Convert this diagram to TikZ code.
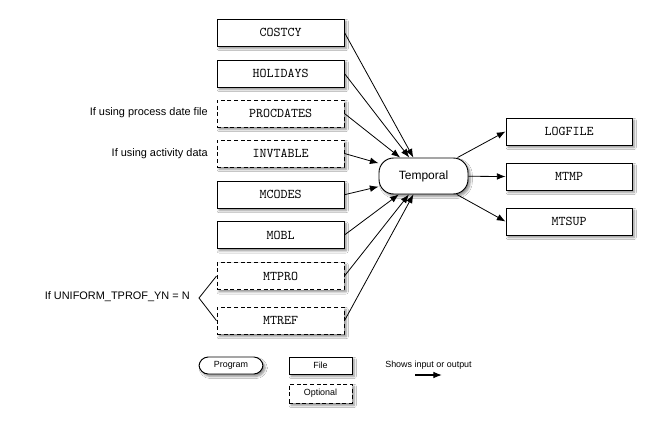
\documentclass[tikz,border=0pt]{standalone}
\usepackage{fontspec}
\setmainfont{Liberation Sans}
\usetikzlibrary{arrows.meta,shadows.blur,calc}
\tikzset{
  x=0.75pt, y=-0.75pt,
  shad/.style={blur shadow={shadow xshift=1.6pt, shadow yshift=-1.8pt, shadow blur radius=1.6pt, shadow blur steps=6, shadow opacity=45}},
  filebox/.style={draw=black, line width=0.7pt, fill=white, shad, minimum width=95.25pt, minimum height=20.25pt, inner sep=0pt, font=\ttfamily\fontsize{10}{12}\selectfont},
  outbox/.style={filebox, minimum width=94.5pt},
  optbox/.style={filebox, dash pattern=on 3pt off 2pt},
  prog/.style={draw=black, line width=0.7pt, fill=white, shad, rounded corners=11pt, minimum width=66.75pt, minimum height=27pt, inner sep=0pt, font=\fontsize{9}{11}\selectfont},
  lbl/.style={font=\fontsize{8.2}{10}\selectfont, inner sep=0pt},
  leg/.style={font=\fontsize{6.7}{8}\selectfont, inner sep=0pt},
  flow/.style={-{Latex[length=6.5pt,width=5pt]}, line width=0.6pt},
}
\begin{document}
\begin{tikzpicture}
\useasboundingbox[fill=white] (0,0) rectangle (668,425);
% inputs
\node[filebox] (costcy)   at (280.5,32.5)  {COSTCY};
\node[filebox] (holidays) at (280.5,73.5)  {HOLIDAYS};
\node[optbox]  (procdates) at (280.5,113.5) {PROCDATES};
\node[optbox]  (invtable) at (280.5,153.5) {INVTABLE};
\node[filebox] (mcodes)   at (280.5,194.7) {MCODES};
\node[filebox] (mobl)     at (280.5,235)   {MOBL};
\node[optbox]  (mtpro)    at (280.5,276)   {MTPRO};
\node[optbox]  (mtref)    at (280.5,320.7) {MTREF};
% program
\node[prog] (temporal) at (423.5,176) {Temporal};
% outputs
\node[outbox] (logfile) at (569,131.5) {LOGFILE};
\node[outbox] (mtmp)    at (569,176.5) {MTMP};
\node[outbox] (mtsup)   at (569,221.5) {MTSUP};
% labels
\node[lbl, anchor=east] (lproc) at (208,113) {If using process date file};
\node[lbl, anchor=east] (linv)  at (208,154) {If using activity data};
\node[lbl, anchor=east] (lunif) at (190,297) {If UNIFORM\_TPROF\_YN = N};
\coordinate (apex) at (199,298);
\draw[line width=0.6pt] (mtpro.west) -- (apex) -- (mtref.west);
% connectors
\foreach \n in {costcy,holidays,procdates,invtable,mcodes,mobl,mtpro,mtref}
  \draw[flow] (\n.east) -- (temporal);
\foreach \n in {logfile,mtmp,mtsup}
  \draw[flow] (temporal) -- (\n.west);
% legend
\node[prog, leg, rounded corners=7pt, minimum width=48pt, minimum height=12.75pt] (lprog) at (231,365.5) {Program};
\node[filebox, leg, minimum width=47.25pt, minimum height=12.75pt] (lfile) at (320.5,365.5) {File};
\node[optbox, leg, minimum width=47.25pt, minimum height=14.25pt] (lopt) at (320.5,393.5) {Optional};
\node[leg] (lshow) at (428.5,365) {Shows input or output};
\coordinate (la) at (415,375);
\coordinate (lb) at (442,375);
\draw[flow, line width=0.9pt] (la) -- (lb);
\end{tikzpicture}
\end{document}
